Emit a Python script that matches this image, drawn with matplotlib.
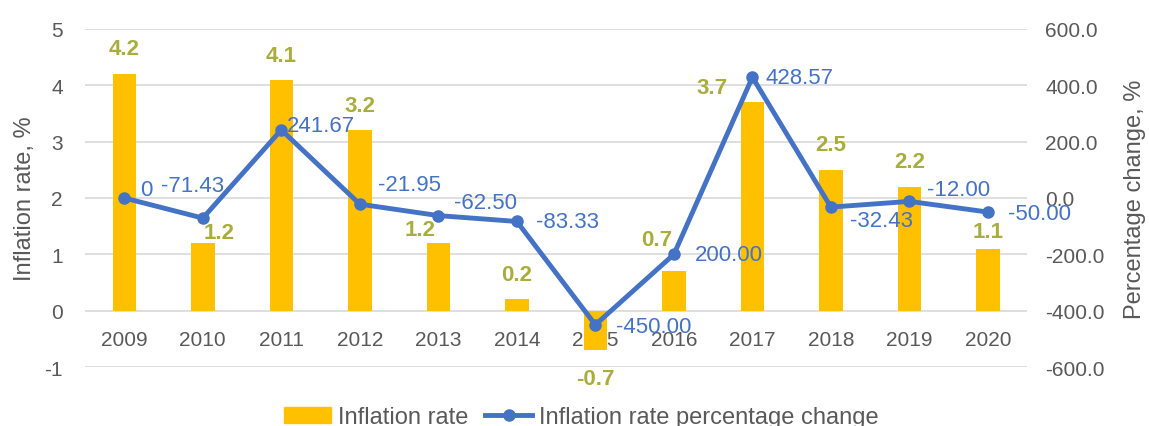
import numpy as np
import matplotlib
matplotlib.use('Agg')
import matplotlib.pyplot as plt
from matplotlib.lines import Line2D
from matplotlib.patches import Patch

years = ['2009', '2010', '2011', '2012', '2013', '2014',
         '2015', '2016', '2017', '2018', '2019', '2020']
inflation = [4.2, 1.2, 4.1, 3.2, 1.2, 0.2, -0.7, 0.7, 3.7, 2.5, 2.2, 1.1]
pct_change = [0, -71.43, 241.67, -21.95, -62.50, -83.33,
              -450.00, -200.00, 428.57, -32.43, -12.00, -50.00]
# labels as printed in the source chart (2016 shows no minus sign)
pct_labels = ['0', '-71.43', '241.67', '-21.95', '-62.50', '-83.33',
              '-450.00', '200.00', '428.57', '-32.43', '-12.00', '-50.00']

# label offsets in pixels (dx, dy) - hand placed like the excel chart
bar_off = [(0, 25), (16, 11), (0, 24), (0, 25), (-18, 14), (0, 25),
           (0, -28), (-17, 32), (-40, 15), (0, 25), (0, 25), (0, 17)]
line_off = [(22, 8), (-10, 33), (40, 4), (50, 20), (47, 13), (51, 0),
            (58, -2), (55, 0), (47, 0), (51, -13), (49, 12), (52, -1)]

bar_col = '#FFC000'
line_col = '#4472C4'
lab_col = '#A9AD3C'
txt_col = '#595959'
grid_col = '#D9D9D9'

plt.rcParams['font.family'] = ['Liberation Sans', 'DejaVu Sans']
plt.rcParams['axes.unicode_minus'] = False

fig = plt.figure(figsize=(11.49, 4.27), dpi=100)
ax = fig.add_axes([0.074, 0.138, 0.820, 0.792])
x = np.arange(len(years))

ax.bar(x, inflation, width=0.3, color=bar_col, zorder=2)
ax.set_ylim(-1, 5)
ax.set_xlim(-0.5, len(years) - 0.5)
ax.set_yticks(range(-1, 6))
ax.grid(axis='y', color=grid_col, linewidth=1.2, zorder=0)
for s in ax.spines.values():
    s.set_visible(False)
ax.spines['bottom'].set_position(('data', 0))
ax.set_xticks(x)
ax.set_xticklabels(years)
ax.tick_params(axis='x', length=0, pad=14, labelsize=15, labelcolor=txt_col)
ax.tick_params(axis='y', length=0, pad=16, labelsize=15, labelcolor=txt_col)
ax.set_ylabel('Inflation rate, %', fontsize=17, color=txt_col, labelpad=6)

for i, v in enumerate(inflation):
    ax.annotate(f'{v:.1f}', (x[i], v), xytext=bar_off[i], textcoords='offset pixels',
                ha='center', va='center', fontsize=16, fontweight='bold', color=lab_col, zorder=5)

ax2 = ax.twinx()
ax2.plot(x, pct_change, color=line_col, linewidth=3.5, marker='o', markersize=8, zorder=4)
ax2.set_ylim(-600, 600)
ax2.set_yticks(np.arange(-600, 601, 200))
ax2.set_yticklabels([f'{t:.1f}' for t in np.arange(-600, 601, 200)])
for s in ax2.spines.values():
    s.set_visible(False)
ax2.tick_params(axis='y', length=0, pad=13, labelsize=15, labelcolor=txt_col)
ax2.set_ylabel('Percentage change, %', fontsize=17, color=txt_col, labelpad=14)

for i, v in enumerate(pct_change):
    ax2.annotate(pct_labels[i], (x[i], v), xytext=line_off[i], textcoords='offset pixels',
                 ha='center', va='center', fontsize=16, color=line_col, zorder=6)

handles = [Patch(color=bar_col),
           Line2D([0], [0], color=line_col, linewidth=3.5, marker='o', markersize=8)]
fig.legend(handles, ['Inflation rate', 'Inflation rate percentage change'],
           loc='center', bbox_to_anchor=(0.506, 0.021), ncol=2, frameon=False,
           fontsize=17, labelcolor=txt_col, handlelength=2.0, columnspacing=0.7,
           handletextpad=0.3)

fig.savefig('out.png', dpi=100)
